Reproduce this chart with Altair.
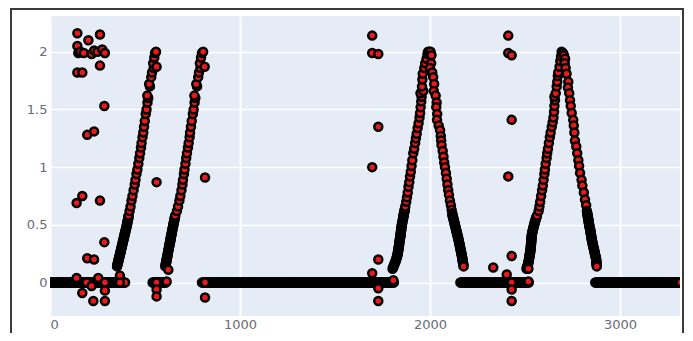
import altair as alt
import pandas as pd

# ---- flat runs at zero (sample positions) ----
band_a_x = [0,5,10,15,20,25,30,35,40,45,50,55,60,65,70,75,80,85,90,95,100,105,110,115,120,125,130,135,140,145,
            150,155,160,165,170,175,180,185,190,195,200,205,210,215,220,225,230,235,240,245,250,255,260,265,270,275,
            280,285,290,295,300,305,310,315,320,325,330,335,340,345,350,355,360,365,370,375,380,385,390,395]
band_b_x = [540,545,550,555,560,565,570,575,580,585,590,595,600,605,610]
band_c_x = [800,805,810,815,820,825,830,835,840,845,850,855,860,865,870,875,880,885,890,895,
            900,905,910,915,920,925,930,935,940,945,950,955,960,965,970,975,980,985,990,995,
            1000,1005,1010,1015,1020,1025,1030,1035,1040,1045,1050,1055,1060,1065,1070,1075,1080,1085,1090,1095,
            1100,1105,1110,1115,1120,1125,1130,1135,1140,1145,1150,1155,1160,1165,1170,1175,1180,1185,1190,1195,
            1200,1205,1210,1215,1220,1225,1230,1235,1240,1245,1250,1255,1260,1265,1270,1275,1280,1285,1290,1295,
            1300,1305,1310,1315,1320,1325,1330,1335,1340,1345,1350,1355,1360,1365,1370,1375,1380,1385,1390,1395,
            1400,1405,1410,1415,1420,1425,1430,1435,1440,1445,1450,1455,1460,1465,1470,1475,1480,1485,1490,1495,
            1500,1505,1510,1515,1520,1525,1530,1535,1540,1545,1550,1555,1560,1565,1570,1575,1580,1585,1590,1595,
            1600,1605,1610,1615,1620,1625,1630,1635,1640,1645,1650,1655,1660,1665,1670,1675,1680,1685,1690,1695,
            1700,1705,1710,1715,1720,1725,1730,1735,1740,1745,1750,1755,1760,1765,1770,1775,1780,1785,1790,1795,
            1800,1805,1810]
band_d_x = [2160,2165,2170,2175,2180,2185,2190,2195,2200,2205,2210,2215,2220,2225,2230,2235,2240,2245,2250,2255,
            2260,2265,2270,2275,2280,2285,2290,2295,2300,2305,2310,2315,2320,2325,2330,2335,2340,2345,2350,2355,
            2360,2365,2370,2375,2380,2385,2390,2395,2400,2405,2410,2415,2420,2425,2430,2435,2440,2445,2450,2455,
            2460,2465,2470,2475,2480,2485,2490,2495,2500,2505,2510,2515,2520]
band_e_x = [2870,2875,2880,2885,2890,2895,2900,2905,2910,2915,2920,2925,2930,2935,2940,2945,2950,2955,2960,2965,
            2970,2975,2980,2985,2990,2995,3000,3005,3010,3015,3020,3025,3030,3035,3040,3045,3050,3055,3060,3065,
            3070,3075,3080,3085,3090,3095,3100,3105,3110,3115,3120,3125,3130,3135,3140,3145,3150,3155,3160,3165,
            3170,3175,3180,3185,3190,3195,3200,3205,3210,3215,3220,3225,3230,3235,3240,3245,3250,3255,3260,3265,
            3270,3275,3280,3285,3290,3295,3300,3305,3310,3315,3320]
band_level = 0.0

# ---- slow (dense) parts of the ramps ----
dense_a_y = [0.14,0.15,0.16,0.17,0.18,0.19,0.20,0.21,0.22,0.23,0.24,0.25,0.26,0.27,0.28,0.29,0.30,0.31,0.32,0.33,
             0.34,0.35,0.36,0.37,0.38,0.39,0.40,0.41,0.42,0.43,0.44,0.45,0.46,0.47,0.48,0.49,0.50,0.51,0.52,0.53,
             0.54,0.55,0.56,0.57,0.58]
ramp1_dense_x = [353,354,356,357,359,360,362,363,365,366,368,369,371,372,373,375,376,378,379,381,
                 382,383,385,386,388,389,391,392,393,395,396,398,399,401,402,404,405,406,407,408,
                 410,411,412,413,414]
ramp2_dense_x = [607,608,609,611,612,613,614,615,617,618,619,620,621,622,623,625,626,627,628,629,
                 630,632,633,634,635,636,637,639,640,641,642,643,644,646,647,648,649,650,652,653,
                 654,655,657,658,659]
peak3_dense_y = [0.12,0.13,0.14,0.15,0.16,0.17,0.18,0.19,0.20,0.21,0.22,0.23,0.24,0.25,0.26,0.27,0.28,0.29,0.30,0.31,
                 0.32,0.33,0.34,0.35,0.36,0.37,0.38,0.39,0.40,0.41,0.42,0.43,0.44,0.45,0.46,0.47,0.48,0.49,0.50,0.51,
                 0.52,0.53,0.54,0.55,0.56,0.57,0.58,0.59,0.60,0.61,0.62,0.63,0.64]
peak3_dense_x = [1803,1806,1808,1811,1813,1815,1818,1820,1822,1824,1826,1827,1829,1830,1831,1832,1833,1834,1835,1836,
                 1837,1838,1838,1839,1840,1841,1842,1843,1844,1845,1846,1846,1847,1848,1849,1849,1850,1851,1852,1853,
                 1854,1855,1857,1858,1859,1860,1861,1862,1863,1865,1866,1867,1868]
peak4_dense_y = [0.12,0.13,0.14,0.15,0.16,0.17,0.18,0.19,0.20,0.21,0.22,0.23,0.24,0.25,0.26,0.27,0.28,0.29,0.30,0.31,
                 0.32,0.33,0.34,0.35,0.36,0.37,0.38,0.39,0.40,0.41,0.42,0.43,0.44,0.45,0.46,0.47,0.48,0.49,0.50,0.51,
                 0.52,0.53,0.54,0.55,0.56,0.57,0.58]
peak4_dense_x = [2508,2510,2512,2514,2516,2518,2519,2520,2521,2522,2523,2524,2525,2526,2527,2528,2529,2530,2530,2531,
                 2531,2532,2532,2533,2533,2534,2534,2535,2535,2536,2537,2538,2539,2541,2542,2544,2545,2547,2548,2550,
                 2551,2553,2555,2557,2559,2561,2563]
dense_down_y = [0.60,0.59,0.58,0.57,0.56,0.55,0.54,0.53,0.52,0.51,0.50,0.49,0.48,0.47,0.46,0.45,0.44,0.43,0.42,0.41,
                0.40,0.39,0.38,0.37,0.36,0.35,0.34,0.33,0.32,0.31,0.30,0.29,0.28,0.27,0.26,0.25,0.24,0.23,0.22,0.21,
                0.20,0.19,0.18,0.17,0.16,0.15,0.14]
peak3_down_dense_x = [2117,2118,2119,2121,2122,2124,2125,2127,2128,2130,2131,2133,2134,2136,2137,2139,2140,2142,2143,2145,
                      2146,2148,2149,2151,2152,2153,2154,2156,2157,2158,2159,2161,2162,2163,2164,2166,2167,2168,2169,2170,
                      2171,2172,2173,2174,2175,2176,2177]
peak4_down_dense_x = [2828,2829,2830,2831,2832,2833,2834,2835,2836,2837,2838,2839,2840,2842,2843,2844,2845,2846,2847,2848,
                      2849,2850,2851,2852,2853,2855,2856,2857,2858,2860,2861,2863,2864,2866,2867,2868,2869,2871,2872,2874,
                      2875,2875,2876,2876,2877,2877,2878]

# ---- steep parts of the ramps ----
steep_up_y = [0.62,0.66,0.71,0.75,0.80,0.85,0.89,0.94,0.98,1.03,1.08,1.12,1.17,1.21,1.26,1.30,1.35,1.40,1.46,1.50,
              1.56,1.60,1.62,1.70,1.72,1.78,1.82,1.86,1.90,1.95,1.99,2.00,1.87]
ramp1_steep_x = [419,424,429,434,440,446,450,455,460,465,470,474,479,482,487,491,495,499,504,508,
                 513,517,512,526,522,533,537,546,543,549,553,558,561]
ramp2_steep_x = [668,674,681,686,692,697,700,705,708,713,717,721,726,730,735,737,742,746,752,756,
                 761,765,760,774,770,780,784,792,789,795,800,806,814]
peak3_up_y = [0.66,0.70,0.74,0.78,0.83,0.87,0.92,0.96,1.01,1.06,1.12,1.16,1.21,1.25,1.29,1.34,1.38,1.43,1.47,1.52,
              1.57,1.61,1.64,1.66,1.70,1.76,1.81,1.86,1.90,1.94,1.98,2.00,2.00]
peak3_up_x = [1870,1875,1879,1883,1887,1891,1895,1899,1903,1907,1912,1917,1922,1926,1930,1935,1940,1945,1948,1951,
              1954,1956,1950,1965,1958,1960,1962,1970,1975,1982,1987,1990,1998]
peak3_down_y = [2.00,1.97,1.90,1.86,1.82,1.78,1.72,1.66,1.62,1.56,1.52,1.46,1.41,1.36,1.32,1.27,1.23,1.19,1.14,1.09,
                1.04,1.00,0.95,0.90,0.85,0.80,0.76,0.71,0.67,0.63]
peak3_down_x = [2003,2008,2006,2000,2012,2017,2022,2020,2030,2035,2033,2038,2037,2046,2053,2057,2059,2061,2067,2071,
                2075,2079,2084,2088,2092,2096,2100,2105,2110,2114]
peak4_up_y = [0.62,0.66,0.70,0.75,0.80,0.84,0.89,0.94,0.98,1.03,1.08,1.12,1.16,1.21,1.26,1.30,1.35,1.39,1.43,1.48,
              1.53,1.58,1.61,1.64,1.70,1.74,1.79,1.82,1.87,1.92,1.96,2.00,1.99]
peak4_up_x = [2572,2576,2580,2585,2590,2594,2598,2602,2605,2609,2614,2617,2621,2626,2631,2635,2641,2646,2650,2653,
              2655,2658,2655,2662,2667,2670,2673,2675,2682,2686,2690,2693,2700]
peak4_down_y = [1.97,1.94,1.90,1.86,1.81,1.74,1.69,1.64,1.58,1.53,1.47,1.41,1.36,1.30,1.23,1.18,1.12,1.06,1.01,0.95,
                0.89,0.84,0.78,0.72,0.67,0.62]
peak4_down_x = [2705,2711,2709,2714,2719,2728,2726,2733,2737,2741,2746,2754,2757,2760,2763,2770,2775,2781,2785,2790,
                2798,2802,2810,2816,2822,2826]

# ---- isolated points ----
left_out_x = [144,202,263,144,149,160,178,219,232,250,275,289,263,144,170,286,196,232,140,170,
              263,286,196,232,140,193,254,289,219,170,228,289,289,368,368]
left_out_y = [2.16,2.10,2.15,2.05,1.99,2.00,1.99,1.98,2.01,2.00,2.02,1.99,1.88,1.82,1.82,1.53,1.28,1.31,0.69,0.75,
              0.71,0.35,0.21,0.20,0.04,0.00,0.04,0.00,-0.03,-0.09,-0.16,-0.16,-0.07,0.06,0.00]
mid_out_x = [561,561,561,561,614,623,816,816,816]
mid_out_y = [0.87,0.00,-0.06,-0.12,0.01,0.11,0.91,0.00,-0.13]
p3_out_x = [1696,1696,1728,1728,1696,1728,1696,1728,1728,1807]
p3_out_y = [2.14,1.99,1.98,1.35,1.00,0.20,0.08,-0.05,-0.16,0.02]
p4_out_x = [2333,2412,2412,2430,2430,2412,2430,2404,2430,2430,2430,2518,2518]
p4_out_y = [0.13,2.14,1.99,1.97,1.41,0.92,0.23,0.07,0.00,-0.06,-0.16,0.01,0.12]

x_ticks = [0, 1000, 2000, 3000]
y_ticks = [0, 0.5, 1, 1.5, 2]

xs, ys = [], []
for bx in (band_a_x, band_b_x, band_c_x, band_d_x, band_e_x):
    xs += bx
    ys += [band_level] * len(bx)
segments = [
    (ramp1_dense_x, dense_a_y), (ramp1_steep_x, steep_up_y),
    (ramp2_dense_x, dense_a_y), (ramp2_steep_x, steep_up_y),
    (peak3_dense_x, peak3_dense_y), (peak3_up_x, peak3_up_y),
    (peak3_down_x, peak3_down_y), (peak3_down_dense_x, dense_down_y),
    (peak4_dense_x, peak4_dense_y), (peak4_up_x, peak4_up_y),
    (peak4_down_x, peak4_down_y), (peak4_down_dense_x, dense_down_y),
    (left_out_x, left_out_y), (mid_out_x, mid_out_y), (p3_out_x, p3_out_y), (p4_out_x, p4_out_y),
]
for sx, sy in segments:
    xs += sx
    ys += sy
df = pd.DataFrame({"x": xs, "y": ys, "i": list(range(len(xs)))})

label_color = "#6a6a78"
points = alt.Chart(df).mark_circle(
    size=64, color="#ea1a1a", opacity=1, stroke="#000000", strokeWidth=2.5, clip=True
).encode(
    x=alt.X("x:Q", scale=alt.Scale(domain=[0, 3316], nice=False, zero=False),
            axis=alt.Axis(values=x_ticks, format="d", title=None, grid=True, gridColor="white",
                          gridWidth=2, tickSize=0, domain=False, labelPadding=2, zindex=0,
                          labelFontSize=13, labelFont="DejaVu Sans", labelColor=label_color)),
    y=alt.Y("y:Q", scale=alt.Scale(domain=[-0.29, 2.31], nice=False, zero=False),
            axis=alt.Axis(values=y_ticks, format="~g", title=None, grid=True, gridColor="white",
                          gridWidth=1.5, tickSize=0, domain=False, labelPadding=3, zindex=0,
                          labelFontSize=13, labelFont="DejaVu Sans", labelColor=label_color)),
    order=alt.Order("i:Q"),
)

frame = alt.Chart(pd.DataFrame({"k": [0]})).mark_rect(
    fill="transparent", stroke="#3a3a3a", strokeWidth=2
).encode(x=alt.value(-39), x2=alt.value(633), y=alt.value(-7), y2=alt.value(345))

chart = alt.layer(points, frame).properties(
    width=630, height=300,
    autosize=alt.AutoSizeParams(type="none"),
    padding={"left": 42, "top": 8, "right": 5, "bottom": 17},
    background="white",
).configure_view(fill="#E5ECF6", strokeWidth=0)

chart.save("out.html", embed_options={"renderer": "svg", "actions": False})
